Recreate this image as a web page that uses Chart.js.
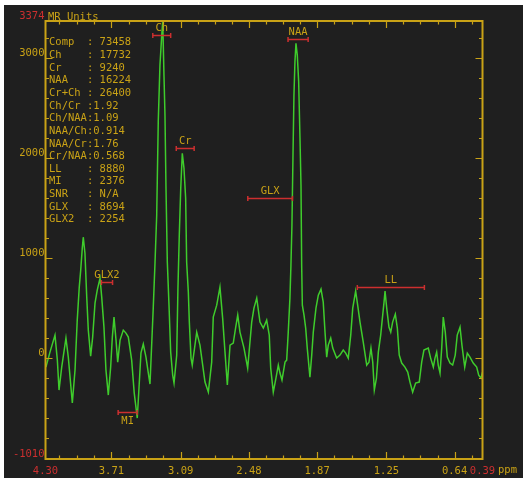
<!DOCTYPE html>
<html>
<head>
<meta charset="utf-8">
<script src="https://cdn.jsdelivr.net/npm/chart.js@4.4.0/dist/chart.umd.min.js"></script>
<style>
  html, body { margin: 0; padding: 0; background: #fff; }
  canvas { display: block; }
</style>
</head>
<body>
<canvas id="spectrum" width="523" height="478"></canvas>
<script>
// spectrum (ppm, MR units)
const ppm = [
  4.296, 4.260, 4.215, 4.194, 4.179, 4.155, 4.117, 4.096, 4.060, 4.036,
  4.016, 3.998, 3.985, 3.971, 3.962, 3.947, 3.931, 3.917, 3.896, 3.878,
  3.857, 3.837, 3.812, 3.797, 3.777, 3.759, 3.738, 3.717, 3.702, 3.687,
  3.669, 3.654, 3.633, 3.604, 3.580, 3.559, 3.529, 3.506, 3.479, 3.463,
  3.446, 3.425, 3.401, 3.380, 3.365, 3.336, 3.320, 3.305, 3.291, 3.276,
  3.260, 3.251, 3.240, 3.231, 3.222, 3.210, 3.195, 3.180, 3.162, 3.150,
  3.126, 3.115, 3.103, 3.090, 3.076, 3.061, 3.046, 3.037, 3.022, 3.013,
  2.998, 2.987, 2.947, 2.918, 2.873, 2.843, 2.813, 2.799, 2.768, 2.739,
  2.715, 2.694, 2.673, 2.649, 2.620, 2.598, 2.580, 2.560, 2.524, 2.491,
  2.455, 2.435, 2.410, 2.381, 2.351, 2.321, 2.298, 2.285, 2.262, 2.238,
  2.217, 2.202, 2.184, 2.157, 2.142, 2.128, 2.113, 2.104, 2.095, 2.086,
  2.077, 2.068, 2.059, 2.047, 2.035, 2.023, 2.014, 2.008, 2.002, 1.987,
  1.972, 1.958, 1.934, 1.918, 1.904, 1.880, 1.859, 1.835, 1.815, 1.799,
  1.784, 1.770, 1.748, 1.730, 1.695, 1.665, 1.636, 1.614, 1.591, 1.569,
  1.551, 1.525, 1.507, 1.486, 1.457, 1.426, 1.406, 1.388, 1.372, 1.358,
  1.339, 1.322, 1.301, 1.283, 1.271, 1.262, 1.247, 1.227, 1.211, 1.194,
  1.170, 1.152, 1.135, 1.113, 1.084, 1.059, 1.039, 1.015, 0.988, 0.956,
  0.934, 0.914, 0.875, 0.854, 0.830, 0.815, 0.800, 0.786, 0.770, 0.755,
  0.741, 0.723, 0.705, 0.681, 0.657, 0.634, 0.616, 0.591, 0.574, 0.549,
  0.526, 0.502, 0.473, 0.442, 0.424, 0.404, 0.390
];
const signal = [
  -90, 60, 230, -20, -320, -90, 200, 10, -450, -120,
  380, 710, 880, 1100, 1210, 1050, 610, 280, 20, 210,
  550, 680, 800, 610, 310, -120, -370, -90, 210, 410,
  180, -40, 180, 280, 250, 210, -20, -350, -600, -290,
  50, 140, 10, -150, -260, 500, 960, 1430, 2370, 2930,
  3230, 3374, 2830, 2430, 1710, 960, 530, 60, -170, -250,
  30, 700, 1230, 1700, 2050, 1900, 1600, 960, 660, 360,
  0, -70, 260, 130, -240, -340, -40, 410, 530, 710,
  400, 60, -270, 130, 150, 310, 430, 260, 100, -100,
  360, 500, 600, 360, 300, 380, 230, -100, -340, -200,
  -70, -150, -220, -40, -20, 260, 600, 930, 1330, 2000,
  2630, 2970, 3150, 3030, 2770, 2200, 1730, 930, 530, 430,
  300, 100, -190, 30, 260, 500, 630, 690, 560, 260,
  10, 130, 200, 100, 0, 30, 80, 50, 0, 230,
  500, 670, 530, 360, 160, -70, -40, 100, -40, -320,
  -200, 60, 230, 430, 560, 670, 500, 310, 260, 360,
  440, 300, 30, -50, -90, -140, -240, -340, -250, -240,
  -40, 80, 100, 0, -90, 0, 60, -70, -150, 100,
  410, 260, 10, -50, -70, 30, 230, 310, 130, -90,
  50, 10, -50, -90, -170, -200, -140
];

const xTickValues = [4.30, 3.71, 3.09, 2.48, 1.87, 1.25, 0.64, 0.39];
const xTickLabels = ["4.30", "3.71", "3.09", "2.48", "1.87", "1.25", "0.64", "0.39"];
const yTickValues = [-1010, 0, 1000, 2000, 3000, 3374];
const yTickLabels = ["-1010", "0", "1000", "2000", "3000", "3374"];

// metabolite ranges marked on the spectrum
const peakNames = ["Ch", "Cr", "NAA", "GLX", "GLX2", "LL", "MI"];
const peakFrom = [3.34, 3.13, 2.13, 2.49, 3.80, 1.51, 3.65];
const peakTo = [3.18, 2.97, 1.95, 2.09, 3.70, 0.91, 3.48];
const peakLevel = [3230, 2100, 3190, 1600, 760, 710, -540];

const statNames = ["Comp", "Ch", "Cr", "NAA", "Cr+Ch", "Ch/Cr", "Ch/NAA", "NAA/Ch",
  "NAA/Cr", "Cr/NAA", "LL", "MI", "SNR", "GLX", "GLX2"];
const statValues = ["73458", "17732", "9240", "16224", "26400", "1.92", "1.09", "0.914",
  "1.76", "0.568", "8880", "2376", "N/A", "8694", "2254"];

const gold = "#c9a216";
const red = "#cc2f2f";
const green = "#3fcc2c";
const monoFont = "10.5px 'DejaVu Sans Mono'";

const mrsPlugin = {
  id: "mrsFrame",
  beforeDraw(chart) {
    const c = chart.ctx;
    c.save();
    c.fillStyle = "#ffffff";
    c.fillRect(0, 0, chart.width, chart.height);
    c.fillStyle = "#1f1f1f";
    c.fillRect(4, 5, chart.width - 4, chart.height - 5);
    c.restore();
  },
  afterDatasetsDraw(chart) {
    const c = chart.ctx;
    const a = chart.chartArea;
    const xs = chart.scales.x;
    const ys = chart.scales.y;
    c.save();

    // frame
    c.strokeStyle = gold;
    c.lineWidth = 2;
    c.strokeRect(a.left, a.top, a.right - a.left, a.bottom - a.top);

    // x tick marks, top and bottom, pointing inwards
    const majors = xTickValues.slice(1, -1);
    let marks = majors.map(v => ({ v: v, major: true }));
    for (let i = 0; i < majors.length - 1; i++) {
      const st = (majors[i] - majors[i + 1]) / 4;
      for (let k = 1; k < 4; k++) marks.push({ v: majors[i] - k * st, major: false });
    }
    const st0 = (majors[0] - majors[1]) / 4;
    for (let v = majors[0] + st0; v < 4.30 - 0.05; v += st0) marks.push({ v: v, major: false });
    const stN = (majors[majors.length - 2] - majors[majors.length - 1]) / 4;
    for (let v = majors[majors.length - 1] - stN; v > 0.39 + 0.05; v -= stN) marks.push({ v: v, major: false });

    c.lineWidth = 1.2;
    c.beginPath();
    marks.forEach(m => {
      const px = Math.round(xs.getPixelForValue(m.v)) + 0.5;
      const len = m.major ? 7 : 3.5;
      c.moveTo(px, a.bottom);
      c.lineTo(px, a.bottom - len);
      c.moveTo(px, a.top);
      c.lineTo(px, a.top + len);
    });
    // y tick marks, left and right
    for (let v = -800; v <= 3200; v += 200) {
      const py = Math.round(ys.getPixelForValue(v)) + 0.5;
      const len = v % 1000 === 0 ? 7 : 3.5;
      c.moveTo(a.left, py);
      c.lineTo(a.left + len, py);
      c.moveTo(a.right, py);
      c.lineTo(a.right - len, py);
    }
    c.stroke();

    // metabolite range bars
    c.font = monoFont;
    c.textAlign = "center";
    c.textBaseline = "middle";
    peakNames.forEach((name, i) => {
      const x1 = xs.getPixelForValue(peakFrom[i]);
      const x2 = xs.getPixelForValue(peakTo[i]);
      const py = Math.round(ys.getPixelForValue(peakLevel[i])) + 0.5;
      c.strokeStyle = red;
      c.lineWidth = 1.5;
      c.beginPath();
      c.moveTo(x1, py); c.lineTo(x2, py);
      c.moveTo(x1, py - 2.5); c.lineTo(x1, py + 2.5);
      c.moveTo(x2, py - 2.5); c.lineTo(x2, py + 2.5);
      c.stroke();
      c.fillStyle = gold;
      const below = peakLevel[i] < 0;
      c.fillText(name, (x1 + x2) / 2, below ? py + 9 : py - 7);
    });

    // stats list
    c.textAlign = "left";
    c.fillStyle = gold;
    statNames.forEach((name, i) => {
      const sep = name.indexOf("/") >= 0 ? ":" : ": ";
      c.fillText(name.padEnd(6) + sep + statValues[i], 49, 42.5 + i * 12.66);
    });

    // units
    c.fillText("MR Units", 48, 17);
    c.fillText("ppm", 498, 470);
    c.restore();
  }
};

new Chart(document.getElementById("spectrum").getContext("2d"), {
  type: "line",
  data: {
    datasets: [{
      data: ppm.map((p, i) => ({ x: p, y: signal[i] })),
      borderColor: green,
      borderWidth: 1.5,
      pointRadius: 0,
      tension: 0,
      fill: false
    }]
  },
  options: {
    responsive: false,
    animation: false,
    devicePixelRatio: 1,
    layout: { padding: { top: 21, right: 40.5, left: 0, bottom: 0 } },
    plugins: { legend: { display: false }, tooltip: { enabled: false } },
    scales: {
      x: {
        type: "linear",
        reverse: true,
        min: 0.39,
        max: 4.30,
        grid: { display: false, drawTicks: false },
        border: { display: false },
        afterBuildTicks: axis => { axis.ticks = xTickValues.map(v => ({ value: v })); },
        afterFit: scale => { scale.height = 19; },
        ticks: {
          autoSkip: false,
          maxRotation: 0,
          padding: 6,
          font: { family: "DejaVu Sans Mono", size: 10.5 },
          color: ctx => (ctx.index === 0 || ctx.index === xTickValues.length - 1) ? red : gold,
          callback: (v, i) => xTickLabels[i]
        }
      },
      y: {
        min: -1010,
        max: 3374,
        grid: { display: false, drawTicks: false },
        border: { display: false },
        afterBuildTicks: axis => { axis.ticks = yTickValues.map(v => ({ value: v })); },
        afterFit: scale => { scale.width = 45.5; },
        ticks: {
          autoSkip: false,
          padding: 1,
          labelOffset: -5,
          font: { family: "DejaVu Sans Mono", size: 10.5 },
          color: ctx => (ctx.index === 0 || ctx.index === yTickValues.length - 1) ? red : gold,
          callback: (v, i) => yTickLabels[i]
        }
      }
    }
  },
  plugins: [mrsPlugin]
});
</script>
</body>
</html>
